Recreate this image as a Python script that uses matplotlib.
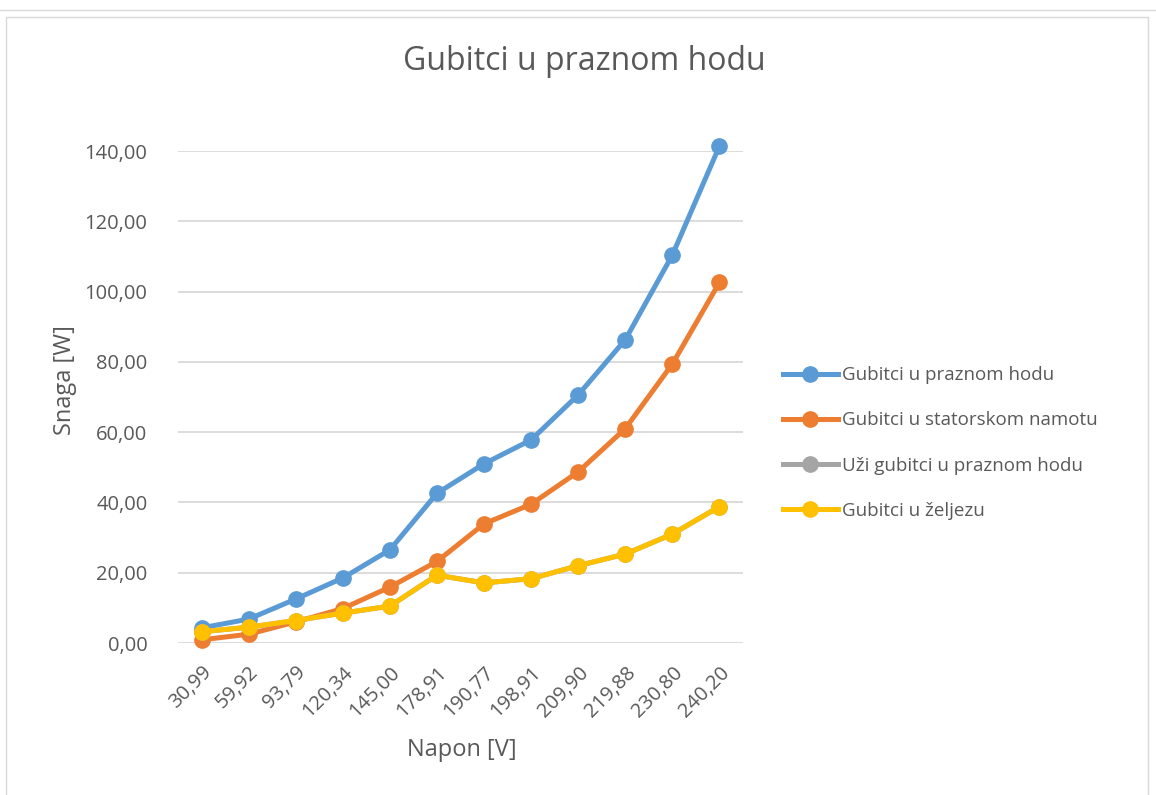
import matplotlib
matplotlib.use("Agg")
import matplotlib.pyplot as plt
from matplotlib.lines import Line2D
from matplotlib.patches import Rectangle

categories = ["30,99", "59,92", "93,79", "120,34", "145,00", "178,91",
              "190,77", "198,91", "209,90", "219,88", "230,80", "240,20"]
praznom_hodu = [4.3, 6.8, 12.5, 18.5, 26.5, 42.6, 51.0, 57.8, 70.6, 86.3, 110.4, 141.4]
statorskom = [0.9, 2.5, 6.0, 9.8, 15.9, 23.2, 33.9, 39.5, 48.7, 61.0, 79.4, 102.6]
uzi_gubitci = [3.2, 4.5, 6.4, 8.5, 10.5, 19.3, 17.1, 18.3, 22.0, 25.3, 31.0, 38.8]
zeljezo = [3.2, 4.5, 6.4, 8.5, 10.5, 19.3, 17.1, 18.3, 22.0, 25.3, 31.0, 38.8]
yticks = [0, 20, 40, 60, 80, 100, 120, 140]
ytick_labels = ["0,00", "20,00", "40,00", "60,00", "80,00", "100,00", "120,00", "140,00"]

series = [
    ("Gubitci u praznom hodu", praznom_hodu, "#5B9BD5"),
    ("Gubitci u statorskom namotu", statorskom, "#ED7D31"),
    ("Uži gubitci u praznom hodu", uzi_gubitci, "#A5A5A5"),
    ("Gubitci u željezu", zeljezo, "#FFC000"),
]

plt.rcParams['font.family'] = ['Open Sans', 'DejaVu Sans']
text_color = "#595959"

fig = plt.figure(figsize=(11.56, 7.95), dpi=100)
W, H = 1156, 795
ax = fig.add_axes([178 / W, 1 - 643 / H, (743 - 178) / W, (643 - 151) / H])

x = list(range(len(categories)))
for name, vals, col in series:
    ax.plot(x, vals, color=col, lw=3.6, marker='o', markersize=11,
            label=name, clip_on=False, solid_capstyle='round', zorder=3)

ax.set_xlim(-0.5, len(categories) - 0.5)
ax.set_ylim(0, 140)
ax.set_yticks(yticks)
ax.set_yticklabels(ytick_labels)
ax.set_xticks(x)
ax.set_xticklabels(categories, rotation=45, ha='right', rotation_mode='anchor')
ax.tick_params(axis='both', length=0, labelsize=14.5, colors=text_color)
ax.tick_params(axis='x', pad=14)
ax.tick_params(axis='y', pad=22)
ax.grid(axis='y', color='#D9D9D9', lw=1.3, zorder=0)
for s in ax.spines.values():
    s.set_visible(False)
ax.set_axisbelow(True)

fig.text(65 / W, 1 - 380 / H, "Snaga [W]", fontsize=17, color=text_color,
         ha='center', va='center', rotation=90)
fig.text(462 / W, 1 - 750 / H, "Napon [V]", fontsize=17, color=text_color,
         ha='center', va='center')
fig.text(584 / W, 1 - 62 / H, "Gubitci u praznom hodu", fontsize=23,
         color=text_color, ha='center', va='center')

handles = [Line2D([0], [0], color=c, lw=3.6, marker='o', markersize=11)
           for _, _, c in series]
fig.legend(handles, [n for n, _, _ in series], loc='center left',
           bbox_to_anchor=(766 / W, 1 - 443 / H), frameon=False,
           fontsize=13.5, labelcolor=text_color, handlelength=2.93,
           handletextpad=0.2, labelspacing=1.45)

# outer borders
fig.add_artist(Line2D([0, 1], [1 - 10 / H, 1 - 10 / H], color='#D9D9D9', lw=1,
                      transform=fig.transFigure))
fig.add_artist(Rectangle((6 / W, -0.01), (1148 - 6) / W, 1 - 17 / H + 0.01,
                         transform=fig.transFigure, fill=False,
                         edgecolor='#D9D9D9', lw=1))

fig.savefig("out.png", dpi=100)
